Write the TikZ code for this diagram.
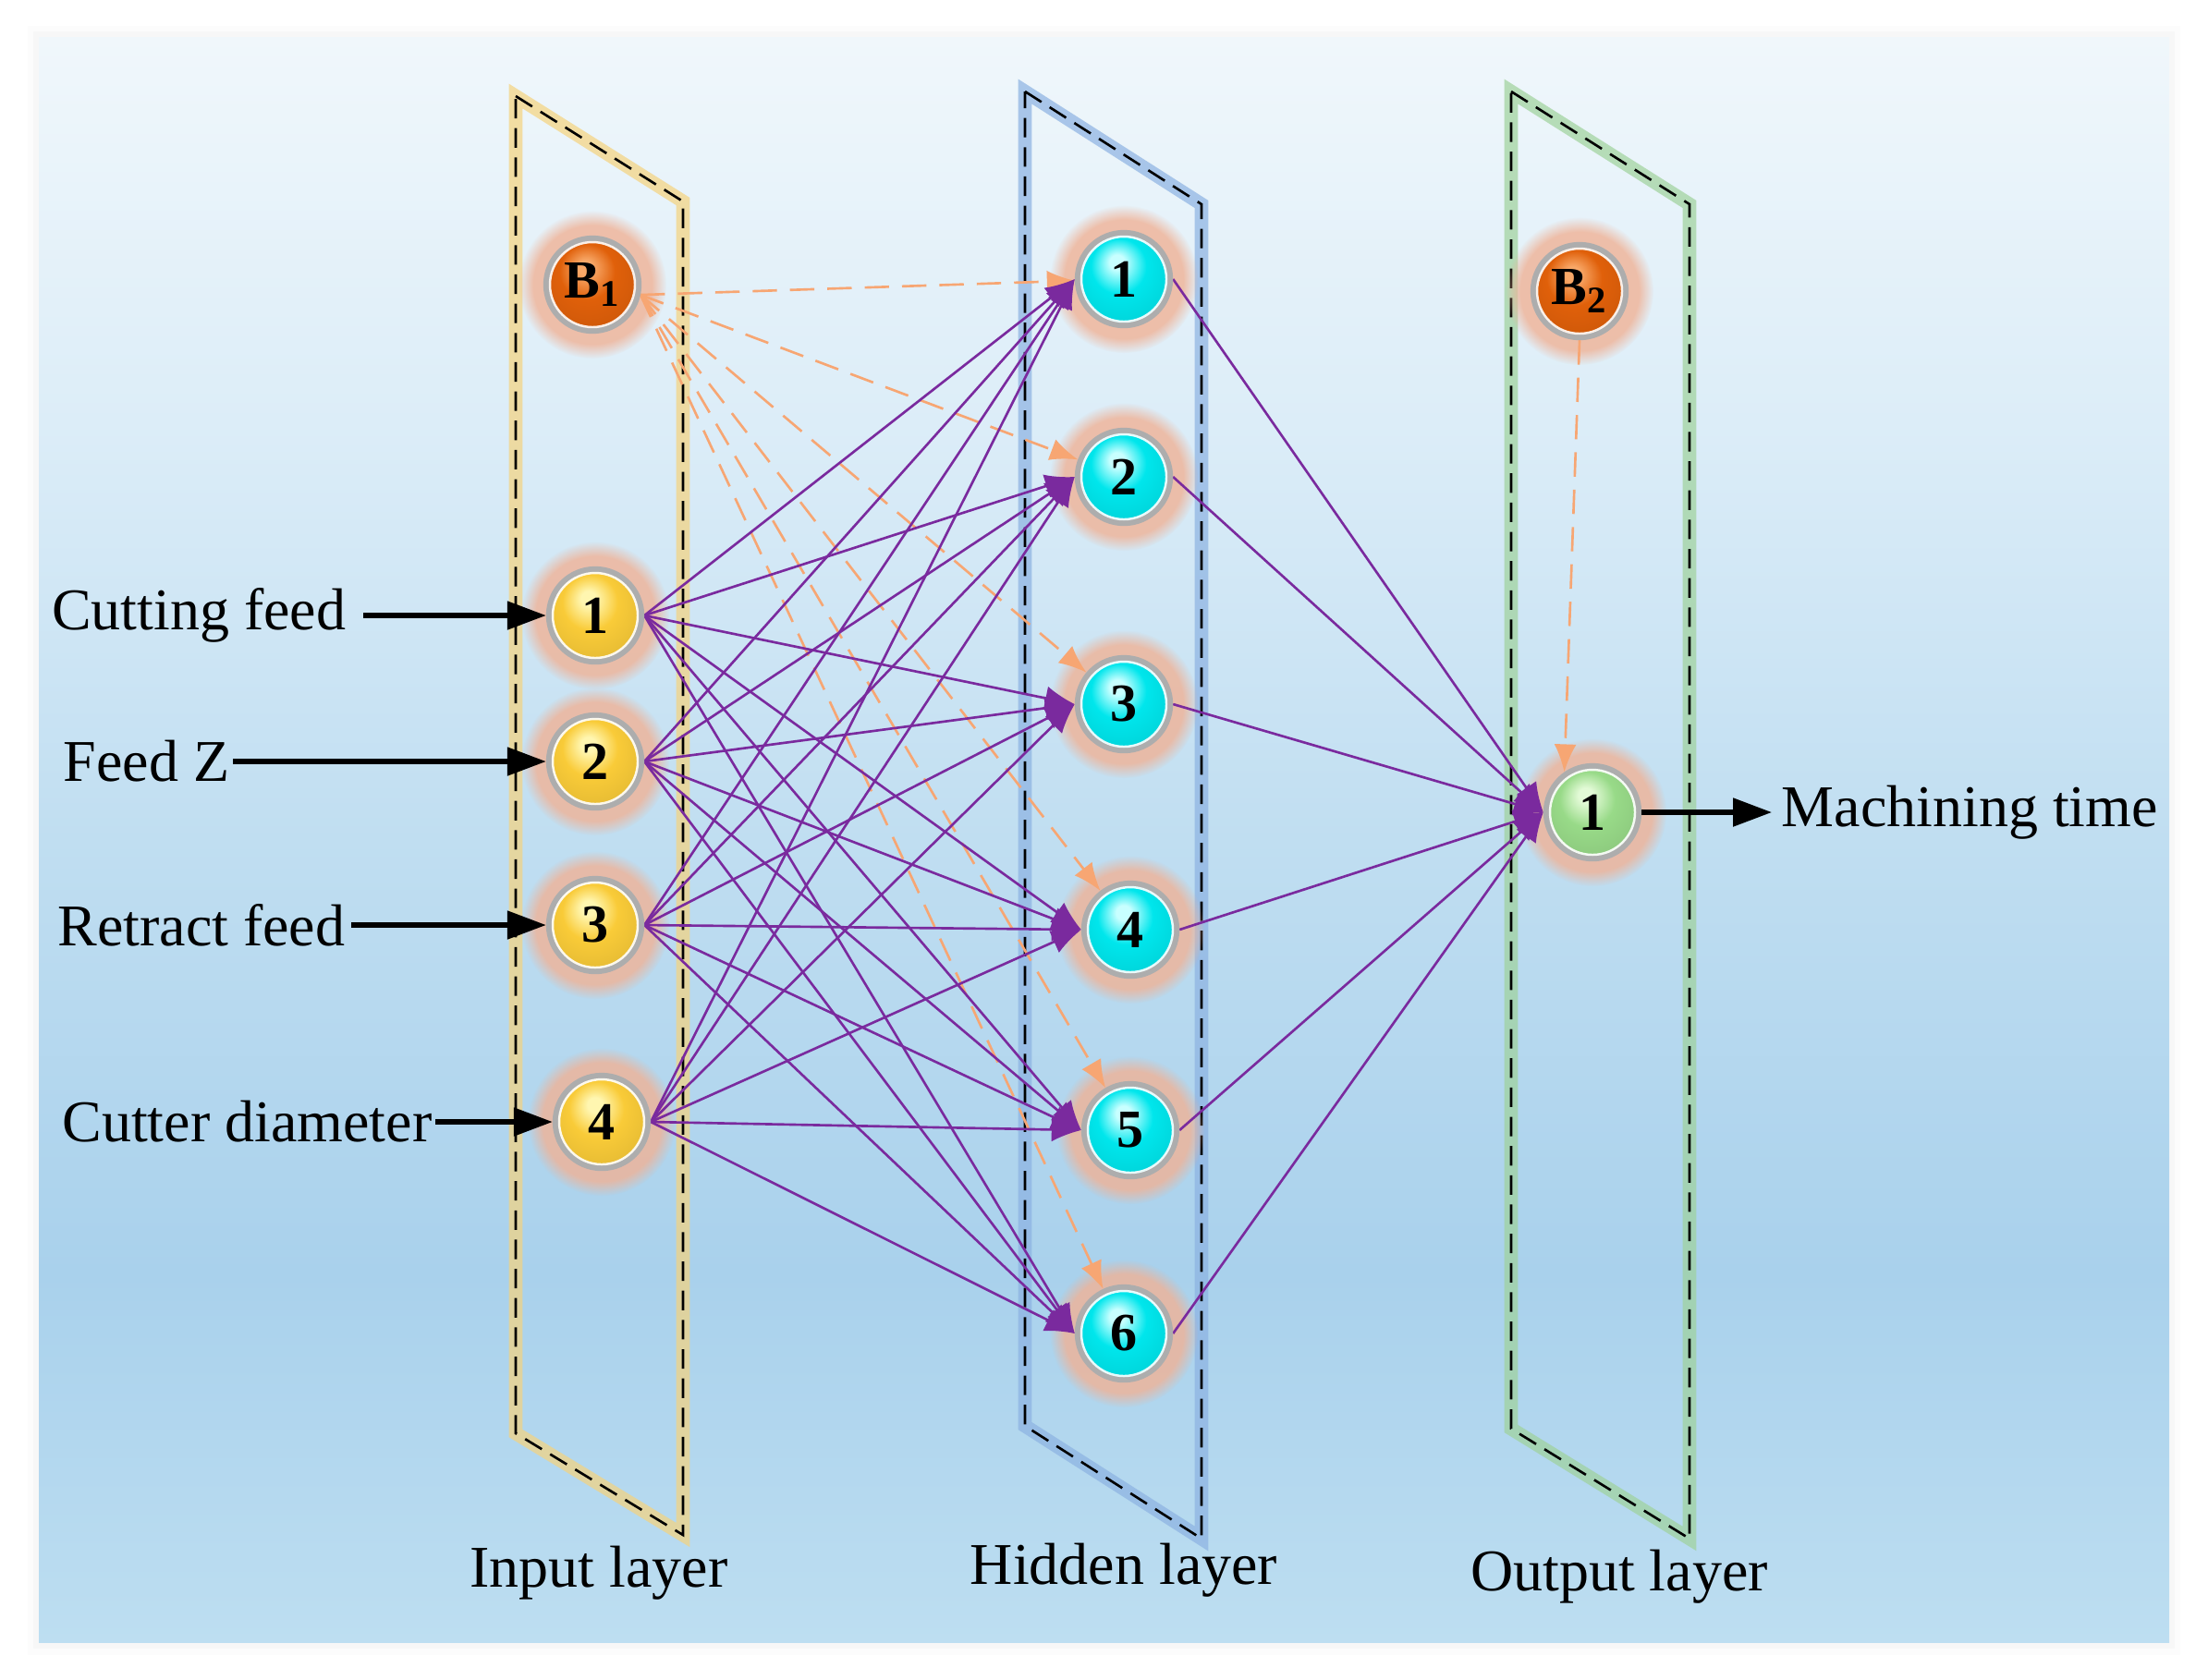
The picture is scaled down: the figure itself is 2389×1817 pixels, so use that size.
\documentclass[tikz,border=0pt]{standalone}
\usepackage{fontspec}
\setmainfont{Liberation Serif}
\usetikzlibrary{arrows.meta,fadings}
\definecolor{bgA}{HTML}{BDDEF1}
\definecolor{bgB}{HTML}{A9D1EC}
\definecolor{bgC}{HTML}{C0DEF1}
\definecolor{bgD}{HTML}{DCEDF8}
\definecolor{bgE}{HTML}{F0F7FB}
\definecolor{synpurple}{HTML}{7A2A9E}
\definecolor{biasorange}{HTML}{F7A673}
\definecolor{glowc}{HTML}{F0B296}
\definecolor{ringgray}{HTML}{ADADAD}
\definecolor{frY}{HTML}{F5D37E}
\definecolor{frB}{HTML}{8CB2E2}
\definecolor{frG}{HTML}{9FD29B}
\definecolor{yHi}{HTML}{FFF6B0}
\definecolor{yBase}{HTML}{F9CB38}
\definecolor{cHi}{HTML}{C8FFFF}
\definecolor{cBase}{HTML}{00E6EC}
\definecolor{gHi}{HTML}{E2FAD6}
\definecolor{gBase}{HTML}{98DA88}
\definecolor{oHi}{HTML}{F8A868}
\definecolor{oBase}{HTML}{E0600A}
\pgfdeclareverticalshading{bgshade}{100bp}{color(0bp)=(bgA); color(25bp)=(bgA); color(36.5bp)=(bgB); color(50bp)=(bgC); color(63bp)=(bgD); color(75bp)=(bgE); color(100bp)=(bgE)}
\newcommand\mkball[3]{\pgfdeclareradialshading{#1}{\pgfqpoint{-4bp}{10bp}}{color(0bp)=(#2); color(4bp)=(#2); color(15bp)=(#3); color(30bp)=(#3!92!black); color(50bp)=(#3!80!black)}}
\mkball{yball}{yHi}{yBase}
\mkball{cball}{cHi}{cBase}
\mkball{gball}{gHi}{gBase}
\mkball{oball}{oHi}{oBase}
\pgfdeclarelayer{bg}
\pgfdeclarelayer{edges}
\pgfsetlayers{bg,edges,main}
\begin{document}
\begin{tikzpicture}[x=0.01cm,y=-0.01cm,
  neuron/.style={circle, minimum size=1.0cm, inner sep=0pt, draw=ringgray, line width=1.8pt,
    font=\fontsize{16.5}{18}\selectfont\bfseries},
  inball/.style={neuron, shade, shading=yball},
  hidball/.style={neuron, shade, shading=cball},
  outball/.style={neuron, shade, shading=gball},
  biasball/.style={neuron, shade, shading=oball},
  syn/.style={draw=synpurple, line width=0.75pt, -{Latex[length=0.32cm,width=0.26cm]}},
  bias/.style={draw=biasorange, line width=0.75pt, dash pattern=on 7.5pt off 4pt, -{Latex[length=0.3cm,width=0.24cm]}},
  inarrow/.style={draw=black, line width=1.5pt, -{Triangle[length=0.42cm,width=0.3cm]}},
  lbl/.style={inner sep=0pt, font=\fontsize{18.2}{22}\selectfont},
  frameglow/.style={line width=4.2pt, line join=miter, opacity=0.7},
  framedash/.style={draw=black, line width=0.75pt, dash pattern=on 6pt off 3pt, line join=miter}
]
\useasboundingbox (0,0) rectangle (2389,1817);
% nodes
\node[biasball] (b1) at (641,308) {B\textsubscript{1}};
\node[inball] (i1) at (644,666) {1};
\node[inball] (i2) at (644,824) {2};
\node[inball] (i3) at (644,1001) {3};
\node[inball] (i4) at (651,1214) {4};
\node[hidball] (h1) at (1216,302) {1};
\node[hidball] (h2) at (1216,516) {2};
\node[hidball] (h3) at (1216,762) {3};
\node[hidball] (h4) at (1223,1006) {4};
\node[hidball] (h5) at (1223,1223) {5};
\node[hidball] (h6) at (1216,1443) {6};
\node[biasball] (b2) at (1709,315) {B\textsubscript{2}};
\node[outball] (o1) at (1723,879) {1};
\foreach \n in {b1,i1,i2,i3,i4,h1,h2,h3,h4,h5,h6,b2,o1}{
  \draw[white, line width=0.7pt, opacity=0.9] (\n.center) circle (46);
}
% labels
\node[lbl, anchor=east] (l1) at (375,666) {Cutting feed};
\node[lbl, anchor=east] (l2) at (249,824) {Feed Z};
\node[lbl, anchor=east] (l3) at (374,1001) {Retract feed};
\node[lbl, anchor=east] (l4) at (468,1214) {Cutter diameter};
\node[lbl, anchor=west] (lo) at (1927,879) {Machining time};
\node[lbl] (tin) at (648,1702) {Input layer};
\node[lbl] (thid) at (1216,1699) {Hidden layer};
\node[lbl] (tout) at (1752,1706) {Output layer};
\draw[inarrow, shorten <=0.18cm] (l1.east) -- (i1.west);
\draw[inarrow, shorten <=0.03cm] (l2.east) -- (i2.west);
\draw[inarrow, shorten <=0.06cm] (l3.east) -- (i3.west);
\draw[inarrow, shorten <=0.03cm] (l4.east) -- (i4.west);
\draw[inarrow, shorten >=0.1cm] (o1.east) -- (lo.west);
% connections
\begin{pgfonlayer}{edges}
\foreach \b in {1,...,6}{\draw[bias] (b1.-12) -- (h\b);}
\draw[bias] (b2.south) -- (o1.125);
\foreach \a in {1,...,4}{\foreach \b in {1,...,6}{\draw[syn] (i\a.east) -- (h\b.west);}}
\foreach \b in {1,...,6}{\draw[syn] (h\b.east) -- (o1.west);}
\end{pgfonlayer}
% background, frames, glows
\begin{pgfonlayer}{bg}
\fill[black, opacity=0.012] (30,28) rectangle (2359,1791);
\fill[black, opacity=0.02] (36,34) rectangle (2353,1784);
\shade[shading=bgshade] (42,40) rectangle (2347,1777);
\coordinate (fy1) at (558,104); \coordinate (fy2) at (739,218);
\coordinate (fy3) at (739,1661); \coordinate (fy4) at (558,1551);
\coordinate (fb1) at (1109,99); \coordinate (fb2) at (1300,221);
\coordinate (fb3) at (1300,1665); \coordinate (fb4) at (1109,1543);
\coordinate (fg1) at (1635,99); \coordinate (fg2) at (1828,221);
\coordinate (fg3) at (1828,1665); \coordinate (fg4) at (1635,1546);
\draw[frameglow, draw=frY] (fy1) -- (fy2) -- (fy3) -- (fy4) -- cycle;
\draw[frameglow, draw=frB] (fb1) -- (fb2) -- (fb3) -- (fb4) -- cycle;
\draw[frameglow, draw=frG] (fg1) -- (fg2) -- (fg3) -- (fg4) -- cycle;
\draw[framedash] (fy1) -- (fy2) -- (fy3) -- (fy4) -- cycle;
\draw[framedash] (fb1) -- (fb2) -- (fb3) -- (fb4) -- cycle;
\draw[framedash] (fg1) -- (fg2) -- (fg3) -- (fg4) -- cycle;
\foreach \n in {b1,i1,i2,i3,i4,h1,h2,h3,h4,h5,h6,b2,o1}{
  \fill[glowc, opacity=0.8, path fading=circle with fuzzy edge 20 percent] (\n.center) circle (80);
}
\end{pgfonlayer}
\end{tikzpicture}
\end{document}
